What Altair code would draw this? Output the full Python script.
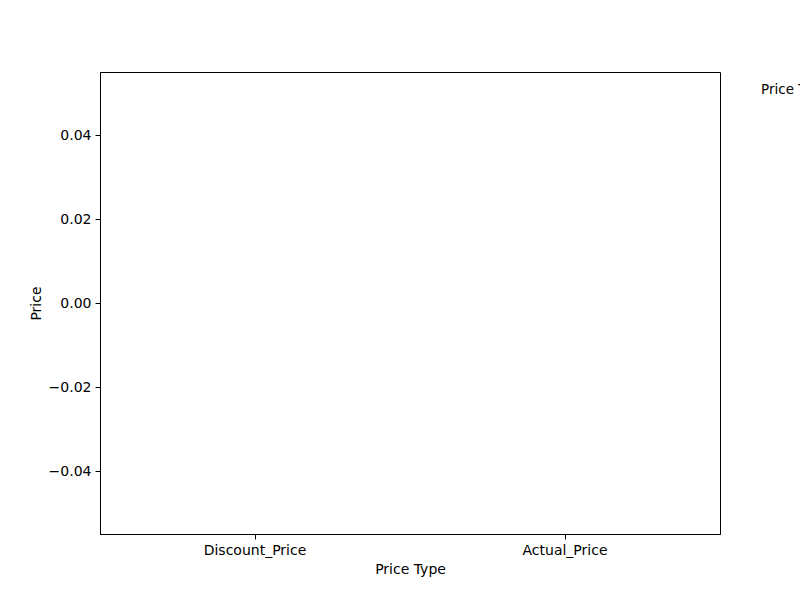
import altair as alt
import pandas as pd

# Data: the reference plot shows no bars (empty values)
price_types = ["Discount_Price", "Actual_Price"]
prices = [None, None]
y_ticks = [-0.04, -0.02, 0.0, 0.02, 0.04]
y_domain = [-0.055, 0.055]
legend_title = ["Price Type"]

df = pd.DataFrame({"Price Type": price_types, "Price": prices})
legend_df = pd.DataFrame({"t": legend_title})

FONT = "DejaVu Sans"

bars = alt.Chart(df).mark_bar().encode(
    x=alt.X(
        "Price Type:N",
        sort=price_types,
        scale=alt.Scale(domain=price_types, paddingInner=0, paddingOuter=0),
        axis=alt.Axis(title="Price Type", labelAngle=0, titlePadding=5),
    ),
    y=alt.Y(
        "Price:Q",
        scale=alt.Scale(domain=y_domain, nice=False, zero=False),
        axis=alt.Axis(title="Price", values=y_ticks, format=".2f", titlePadding=5),
    ),
    color=alt.Color("Price Type:N", legend=None),
)

legend_text = alt.Chart(legend_df).mark_text(
    align="left", baseline="middle", font=FONT, fontSize=13.5, color="black"
).encode(
    text="t:N",
    x=alt.value(661),
    y=alt.value(18),
)

chart = alt.layer(bars, legend_text).properties(
    width=620,
    height=462,
    autosize=alt.AutoSizeParams(type="none"),
    padding={"left": 100, "top": 72, "right": 80, "bottom": 66},
).configure_view(
    stroke="black", strokeWidth=1
).configure_axis(
    grid=False,
    domainColor="black",
    tickColor="black",
    labelColor="black",
    titleColor="black",
    labelFont=FONT,
    titleFont=FONT,
    labelFontSize=14,
    titleFontSize=14,
    titleFontWeight="normal",
    tickSize=5,
    labelPadding=4,
    domainWidth=1,
    tickWidth=1,
)

chart.save("out.html", embed_options={"renderer": "svg", "actions": False})
